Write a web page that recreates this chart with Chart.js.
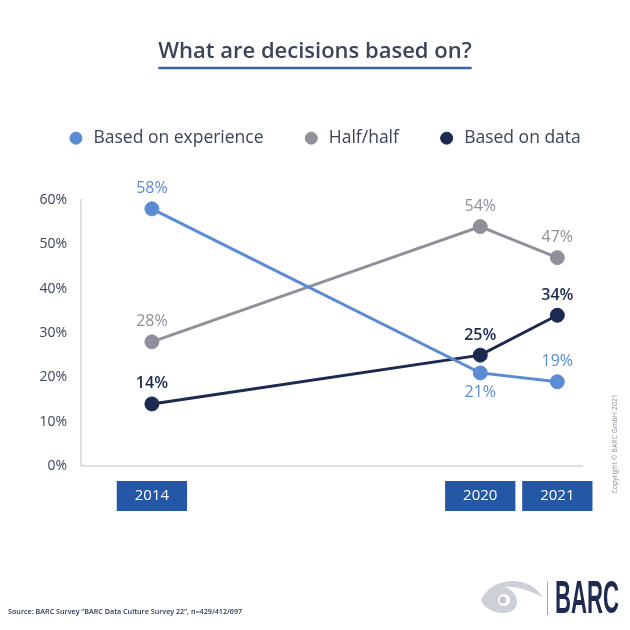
<!DOCTYPE html>
<html>
<head>
<meta charset="utf-8">
<script src="https://cdn.jsdelivr.net/npm/chart.js@4.4.1/dist/chart.umd.min.js"></script>
<style>
html,body{margin:0;padding:0;background:#ffffff;}
#wrap{width:630px;height:630px;position:relative;}
</style>
</head>
<body>
<div id="wrap"><canvas id="c" width="630" height="630"></canvas></div>
<script>
// ---- data ----
const years = [2014, 2020, 2021];
const yearLabels = ['2014', '2020', '2021'];
const seriesNames = ['Based on experience', 'Half/half', 'Based on data'];
const basedOnExperience = [58, 21, 19];
const halfHalf = [28, 54, 47];
const basedOnData = [14, 25, 34];
const yTickValues = [0, 10, 20, 30, 40, 50, 60];
const titleText = 'What are decisions based on?';
const sourceText = 'Source: BARC Survey \u201cBARC Data Culture Survey 22\u201d, n=429/412/697';
const copyrightText = 'Copyright \u00a9 BARC GmbH 2021';
const logoText = 'BARC';

// ---- styles ----
const FONT = "'Open Sans', sans-serif";
const C_EXP = '#5b8cd3';
const C_HALF = '#8e9198';
const C_DATA = '#1c2a52';
const C_TEXT = '#3c4458';
const C_AXIS = '#dcdfe5';
const C_YEARBOX = '#2457a6';
Chart.defaults.font.family = FONT;

// A linear year axis with a compressed span between two years (broken axis)
class GapYearScale extends Chart.LinearScale {
  warp(v) {
    const g = this.options.gap;
    if (!g) return v;
    if (v <= g.from) return v;
    if (v >= g.to) return v - (g.to - g.from) * (1 - g.factor);
    return g.from + (v - g.from) * g.factor;
  }
  configure() {
    super.configure();
    this._startValue = this.warp(this.min);
    this._endValue = this.warp(this.max);
    this._valueRange = this._endValue - this._startValue;
  }
  getPixelForValue(v) {
    return v === null ? NaN : this.getPixelForDecimal((this.warp(v) - this._startValue) / this._valueRange);
  }
}
GapYearScale.id = 'gapYear';
GapYearScale.defaults = Chart.LinearScale.defaults;
Chart.register(GapYearScale);

function toPoints(vals) { return years.map((x, i) => ({ x: x, y: vals[i] })); }

const legendSizer = {
  id: 'legendSizer',
  beforeInit(chart) {
    const lg = chart.legend;
    const orig = lg.fit;
    lg.fit = function () { orig.call(this); this.height = 109.6; };
  },
  afterLayout(chart) {
    chart.legend.left += 9; chart.legend.right += 9;
  }
};

const titleUnderline = {
  id: 'titleUnderline',
  afterDraw(chart) {
    const ctx = chart.ctx;
    const tb = chart.titleBlock;
    ctx.save();
    ctx.font = "600 22px " + FONT;
    const w = ctx.measureText(titleText).width;
    const cx = (tb.left + tb.right) / 2;
    ctx.strokeStyle = '#3b63ad';
    ctx.lineWidth = 2.5;
    ctx.beginPath();
    ctx.moveTo(cx - w / 2, 68);
    ctx.lineTo(cx + w / 2, 68);
    ctx.stroke();
    ctx.restore();
  }
};

const pointLabels = {
  id: 'pointLabels',
  afterDatasetsDraw(chart) {
    const ctx = chart.ctx;
    chart.data.datasets.forEach((ds, di) => {
      const meta = chart.getDatasetMeta(di);
      meta.data.forEach((pt, i) => {
        const v = ds.data[i].y;
        const below = ds.labelBelow && ds.labelBelow[i];
        ctx.save();
        ctx.font = (ds.labelWeight || '400') + ' 16px ' + FONT;
        ctx.fillStyle = ds.labelColor;
        ctx.textAlign = 'center';
        ctx.textBaseline = 'middle';
        ctx.fillText(v + '%', pt.x, pt.y + (below ? 20 : -20));
        ctx.restore();
      });
    });
  }
};

const footer = {
  id: 'footer',
  afterDraw(chart) {
    const ctx = chart.ctx;
    ctx.save();
    // source
    ctx.font = "600 7.2px " + FONT;
    ctx.fillStyle = '#2b3558';
    ctx.textAlign = 'left';
    ctx.textBaseline = 'middle';
    ctx.fillText(sourceText, 8, 612);
    // copyright (vertical)
    ctx.save();
    ctx.translate(615, 444);
    ctx.rotate(-Math.PI / 2);
    ctx.font = "7px " + FONT;
    ctx.fillStyle = '#8f949c';
    ctx.textAlign = 'center';
    ctx.fillText(copyrightText, 0, 0);
    ctx.restore();
    // logo eye
    ctx.fillStyle = '#cdd0d6';
    ctx.beginPath();
    ctx.moveTo(481, 600);
    ctx.bezierCurveTo(492, 576, 530, 574, 543, 598);
    ctx.bezierCurveTo(530, 590, 515, 586, 505, 587);
    ctx.bezierCurveTo(520, 592, 522, 612, 505, 613);
    ctx.bezierCurveTo(494, 614, 484, 608, 481, 600);
    ctx.fill();
    ctx.fillStyle = '#ffffff';
    ctx.beginPath(); ctx.arc(504, 600, 6, 0, Math.PI * 2); ctx.fill();
    ctx.fillStyle = '#c4c7cd';
    ctx.beginPath(); ctx.arc(503, 600, 3.5, 0, Math.PI * 2); ctx.fill();
    // divider
    ctx.strokeStyle = '#a3a8b0';
    ctx.lineWidth = 1;
    ctx.beginPath(); ctx.moveTo(547.5, 582); ctx.lineTo(547.5, 615); ctx.stroke();
    // BARC wordmark
    ctx.font = "bold 46px 'Liberation Sans', sans-serif";
    const tw = ctx.measureText(logoText).width;
    ctx.translate(555, 613);
    ctx.scale(64 / tw, 1);
    ctx.fillStyle = '#1e2a50';
    ctx.textBaseline = 'alphabetic';
    ctx.fillText(logoText, 0, 0);
    ctx.restore();
  }
};

new Chart(document.getElementById('c'), {
  type: 'line',
  data: {
    datasets: [
      { label: seriesNames[0], data: toPoints(basedOnExperience), borderColor: C_EXP, backgroundColor: C_EXP,
        pointBackgroundColor: C_EXP, pointBorderColor: C_EXP, labelColor: C_EXP, labelBelow: [false, true, false] },
      { label: seriesNames[1], data: toPoints(halfHalf), borderColor: C_HALF, backgroundColor: C_HALF,
        pointBackgroundColor: C_HALF, pointBorderColor: C_HALF, labelColor: C_HALF },
      { label: seriesNames[2], data: toPoints(basedOnData), borderColor: C_DATA, backgroundColor: C_DATA,
        pointBackgroundColor: C_DATA, pointBorderColor: C_DATA, labelColor: C_DATA, labelWeight: '600' }
    ]
  },
  options: {
    responsive: false,
    animation: false,
    clip: false,
    layout: { padding: { left: 0, right: 0, top: 0, bottom: 109 } },
    elements: {
      line: { borderWidth: 3, tension: 0 },
      point: { radius: 7, borderWidth: 1, hoverRadius: 7 }
    },
    scales: {
      x: {
        type: 'gapYear',
        min: 2013.08, max: 2021.32, bounds: 'data',
        gap: { from: 2014, to: 2020, factor: 0.71 },
        afterBuildTicks: s => { s.ticks = years.map(v => ({ value: v })); },
        grid: { display: false, drawTicks: false },
        border: { display: true, color: C_AXIS, width: 2 },
        ticks: {
          callback: (v, i) => yearLabels[i],
          color: '#ffffff', font: { size: 15 }, padding: 21,
          showLabelBackdrop: true, backdropColor: C_YEARBOX,
          backdropPadding: { top: 6, bottom: 6, left: 18, right: 18 },
          maxRotation: 0, autoSkip: false
        },
        afterFit: s => { s.height = 55; }
      },
      y: {
        min: 0, max: 60,
        afterBuildTicks: s => { s.ticks = yTickValues.map(v => ({ value: v })); },
        grid: { display: false, drawTicks: false },
        border: { display: true, color: C_AXIS, width: 2 },
        ticks: { callback: v => v + '%', color: C_TEXT, font: { size: 14 }, padding: 14 },
        afterFit: s => { s.width = 81; }
      },
      yRight: {
        position: 'right', display: true,
        grid: { display: false, drawTicks: false },
        border: { display: false },
        ticks: { display: false },
        afterFit: s => { s.width = 48; }
      }
    },
    plugins: {
      title: {
        display: true, text: titleText, color: C_TEXT,
        font: { size: 22, weight: '600' },
        padding: { top: 39, bottom: 25 }
      },
      legend: {
        display: true, position: 'top', align: 'center',
        labels: {
          usePointStyle: true, pointStyle: 'circle',
          boxWidth: 24, boxHeight: 8.5, padding: 39,
          color: C_TEXT, font: { size: 17.5 }
        }
      },
      tooltip: { enabled: false }
    }
  },
  plugins: [legendSizer, titleUnderline, pointLabels, footer]
});
</script>
</body>
</html>
